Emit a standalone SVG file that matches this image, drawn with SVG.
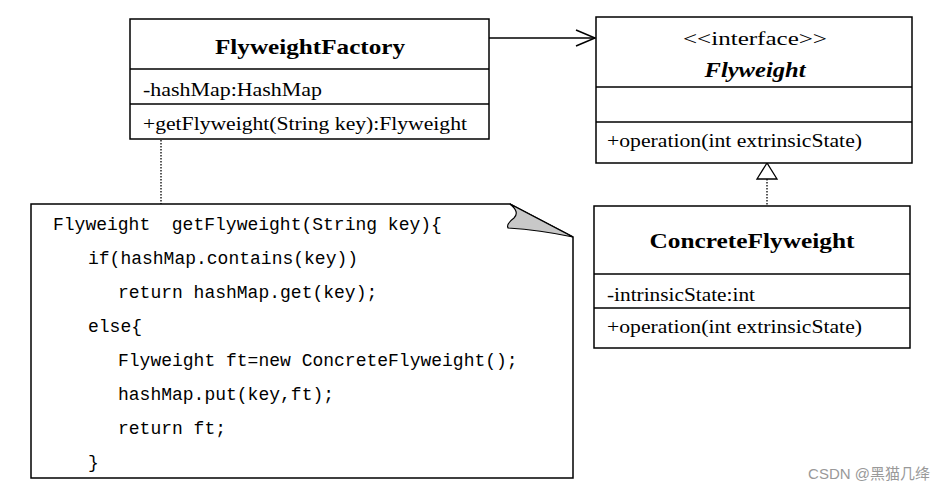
<svg xmlns="http://www.w3.org/2000/svg" width="946" height="493" viewBox="0 0 946 493">
<style>
.box{fill:#fff;stroke:#000;stroke-width:1.5}
.ln{stroke:#000;stroke-width:1.5}
.t{font-family:"Liberation Serif","Times New Roman",serif;font-size:18px;fill:#000}
.b{font-weight:bold;font-size:21px}
.c{font-family:"Liberation Mono","DejaVu Sans Mono",monospace;font-size:18px;fill:#000}
.dot{stroke:#000;stroke-width:1.3;stroke-dasharray:1.5 1.5;fill:none}
</style>
<rect width="946" height="493" fill="#fff"/>
<g id="connectors">
<line class="ln" x1="489" y1="38" x2="595" y2="38"/>
<polyline fill="none" class="ln" points="576,30 595,38 576,46"/>
<line class="dot" x1="767" y1="179" x2="767" y2="206"/>
<polygon points="767,163 757,179 777,179" fill="#fff" stroke="#000" stroke-width="1.3"/>
<line class="dot" x1="161" y1="140" x2="161" y2="204"/>
</g>
<g id="FlyweightFactory">
<rect class="box" x="130" y="19" width="359" height="120"/>
<line class="ln" x1="130" y1="69" x2="489" y2="69"/>
<line class="ln" x1="130" y1="104" x2="489" y2="104"/>
<text class="t b" x="310" y="54" text-anchor="middle" textLength="190" lengthAdjust="spacingAndGlyphs">FlyweightFactory</text>
<text class="t" x="143" y="96" textLength="179" lengthAdjust="spacingAndGlyphs">-hashMap:HashMap</text>
<text class="t" x="143" y="130" textLength="324" lengthAdjust="spacingAndGlyphs">+getFlyweight(String key):Flyweight</text>
</g>
<g id="Flyweight">
<rect class="box" x="596" y="17" width="316" height="146"/>
<line class="ln" x1="596" y1="87" x2="912" y2="87"/>
<line class="ln" x1="596" y1="122" x2="912" y2="122"/>
<text class="t" x="755" y="45" text-anchor="middle" textLength="144" lengthAdjust="spacingAndGlyphs">&lt;&lt;interface&gt;&gt;</text>
<text class="t b" x="755" y="77" text-anchor="middle" font-style="italic" textLength="101" lengthAdjust="spacingAndGlyphs">Flyweight</text>
<text class="t" x="607" y="147" textLength="255" lengthAdjust="spacingAndGlyphs">+operation(int extrinsicState)</text>
</g>
<g id="ConcreteFlyweight">
<rect class="box" x="594" y="206" width="316" height="142"/>
<line class="ln" x1="594" y1="274" x2="910" y2="274"/>
<line class="ln" x1="594" y1="308" x2="910" y2="308"/>
<text class="t b" x="752" y="248" text-anchor="middle" textLength="205" lengthAdjust="spacingAndGlyphs">ConcreteFlyweight</text>
<text class="t" x="607" y="301" textLength="148" lengthAdjust="spacingAndGlyphs">-intrinsicState:int</text>
<text class="t" x="607" y="333" textLength="255" lengthAdjust="spacingAndGlyphs">+operation(int extrinsicState)</text>
</g>
<g id="note">
<polygon points="31,204 510,204 573,237 573,478 31,478" fill="#fff" stroke="#000" stroke-width="1.5"/>
<path d="M510,204 Q520,212 514,218 Q506,224 508,228 Q540,230 573,237 Z" fill="#c8c8c8" stroke="#000" stroke-width="1.2"/>
<text class="c" x="53" y="230" xml:space="preserve">Flyweight  getFlyweight(String key){</text>
<text class="c" x="88" y="264">if(hashMap.contains(key))</text>
<text class="c" x="118" y="298">return hashMap.get(key);</text>
<text class="c" x="88" y="332">else{</text>
<text class="c" x="118" y="366">Flyweight ft=new ConcreteFlyweight();</text>
<text class="c" x="118" y="400">hashMap.put(key,ft);</text>
<text class="c" x="118" y="434">return ft;</text>
<text class="c" x="88" y="468">}</text>
</g>
<text x="930" y="479" text-anchor="end" font-family="'Liberation Sans','Noto Sans CJK SC',sans-serif" font-size="15" fill="#999">CSDN @黑猫几绛</text>
</svg>
